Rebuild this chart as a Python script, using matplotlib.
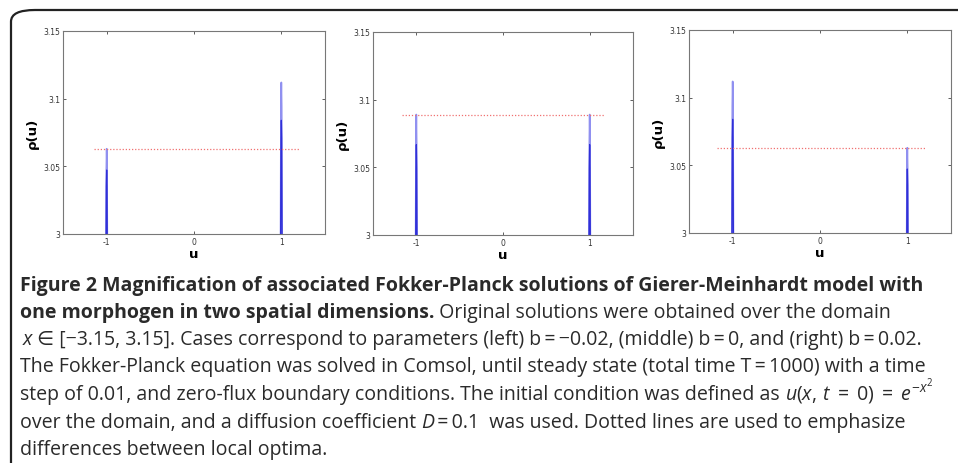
import numpy as np
import matplotlib
matplotlib.use('Agg')
import matplotlib.pyplot as plt
from matplotlib.patches import FancyBboxPatch

plt.rcParams['mathtext.fontset'] = 'custom'
plt.rcParams['mathtext.rm'] = 'Open Sans'
plt.rcParams['mathtext.it'] = 'Open Sans:italic'
plt.rcParams['mathtext.bf'] = 'Open Sans:bold'

# data
u = [-1.5, -1.014, -1.004, -1.0, -0.996, -0.986, 0.986, 0.996, 1.0, 1.004, 1.014, 1.5]
rho_left = [2.9, 2.9, 3.047, 3.063, 3.047, 2.9, 2.9, 3.094, 3.112, 3.094, 2.9, 2.9]
rho_mid = [2.9, 2.9, 3.066, 3.089, 3.066, 2.9, 2.9, 3.066, 3.089, 3.066, 2.9, 2.9]
rho_right = [2.9, 2.9, 3.094, 3.112, 3.094, 2.9, 2.9, 3.047, 3.063, 3.047, 2.9, 2.9]
level_left = 3.063
level_mid = 3.089
level_right = 3.063
xticks = [-1, 0, 1]
yticks = [3, 3.05, 3.1, 3.15]
yticklabels = ['3', '3.05', '3.1', '3.15']

W, H = 958, 464
fig = plt.figure(figsize=(W / 100, H / 100), dpi=100)

# rounded frame, cut off at right and bottom
frame = FancyBboxPatch((11 / W, -0.2), 1.2, 1 - 11 / H + 0.2,
                       boxstyle='round,pad=0,rounding_size=0.025',
                       transform=fig.transFigure, fill=False,
                       edgecolor='#222222', lw=1.6)
fig.patches.append(frame)

def px_axes(l, t, r, b):
    return fig.add_axes([l / W, 1 - b / H, (r - l) / W, (b - t) / H])

panels = [
    ((63, 32, 325, 235), rho_left, level_left, (-1.15, 1.2)),
    ((373, 33, 633, 236), rho_mid, level_mid, (-1.17, 1.18)),
    ((689, 31, 951, 234), rho_right, level_right, (-1.18, 1.2)),
]

for box, rho, level, (x0, x1) in panels:
    ax = px_axes(*box)
    ax.plot(u, rho, color='#9090f0', lw=1.2)
    ax.plot(u, np.minimum(rho, 3.0 + (np.array(rho) - 3.0) * 0.75), color='#3030d8', lw=0.9)
    ax.plot([x0, x1], [level, level], color='#f07070', ls=(0, (1, 1.5)), lw=0.9)
    ax.set_xlim(-1.5, 1.5)
    ax.set_ylim(3, 3.15)
    ax.set_xticks(xticks)
    ax.set_xticklabels([str(t) for t in xticks])
    ax.set_yticks(yticks)
    ax.set_yticklabels(yticklabels)
    ax.tick_params(direction='in', length=2.5, width=0.6, labelsize=5.5,
                   top=True, right=True, colors='#444444', labelcolor='#333333', pad=2)
    for s in ax.spines.values():
        s.set_color('#777777')
        s.set_linewidth(0.8)
    ax.set_xlabel('u', fontsize=9.5, fontweight='bold', labelpad=1)
    ax.set_ylabel('\u03c1(u)', fontsize=9.5, fontweight='bold', labelpad=3)

# caption
renderer = fig.canvas.get_renderer()
fam = ['Open Sans', 'DejaVu Sans']
fs = 14.05
col = '#2a2a2a'

def caption_line(y, segments, x=20):
    xp = x
    for s, kw in segments:
        t = fig.text(xp / W, 1 - y / H, s, fontsize=fs, family=fam, color=col,
                     va='baseline', ha='left', **kw)
        bb = t.get_window_extent(renderer)
        xp += bb.width

bold = {'fontweight': 'bold'}
reg = {}
ital = {'style': 'italic'}

caption_line(291, [('Figure 2 Magnification of associated Fokker-Planck solutions of Gierer-Meinhardt model with', bold)])
caption_line(318, [('one morphogen in two spatial dimensions.', bold),
                   (' Original solutions were obtained over the domain', reg)])
caption_line(345, [('x', ital), (' \u2208 [\u22123.15, 3.15]. Cases correspond to parameters (left) b\u2009=\u2009\u22120.02, (middle) b\u2009=\u20090, and (right) b\u2009=\u20090.02.', reg)], x=23)
caption_line(372, [('The Fokker-Planck equation was solved in Comsol, until steady state (total time T\u2009=\u20091000) with a time', reg)])
caption_line(400, [('step of 0.01, and zero-flux boundary conditions. The initial condition was defined as ', reg),
                   (r'$u(x,\,t\;=\;0)\;=\;e^{-x^2}$', {})])
caption_line(428, [('over the domain, and a diffusion coefficient ', reg), ('D', ital),
                   ('\u2009=\u20090.1  was used. Dotted lines are used to emphasize', reg)])
caption_line(455, [('differences between local optima.', reg)])

fig.savefig('out.png', dpi=100)
